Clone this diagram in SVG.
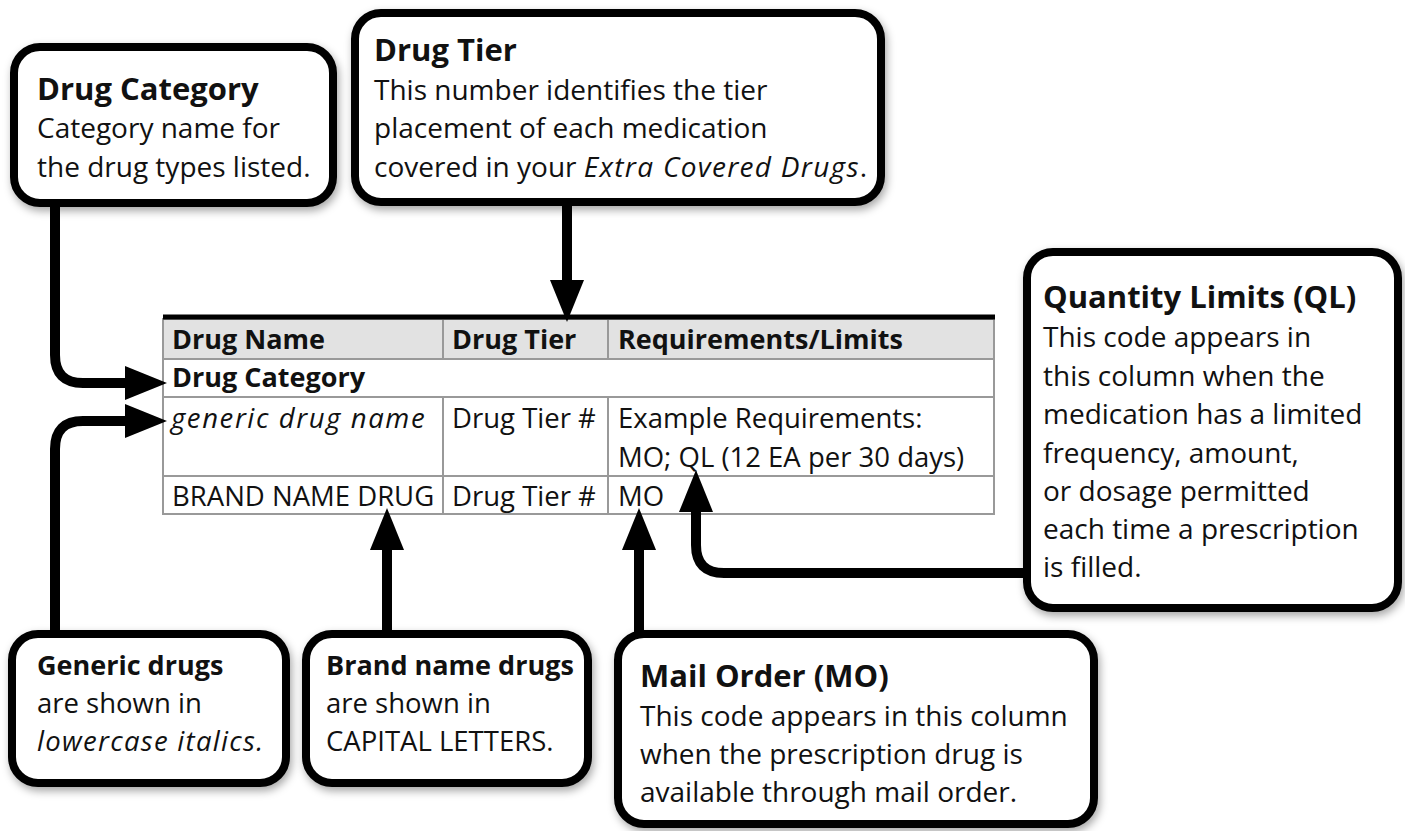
<svg xmlns="http://www.w3.org/2000/svg" width="1405" height="831" viewBox="0 0 1405 831">
<defs>
<filter id="sh" x="-10%" y="-10%" width="125%" height="130%"><feDropShadow dx="2" dy="4" stdDeviation="4" flood-color="#000" flood-opacity="0.35"/></filter>
<marker id="ah" markerUnits="userSpaceOnUse" markerWidth="44" markerHeight="34" refX="0" refY="17" orient="auto" overflow="visible"><path d="M0,0 L42,17 L0,34 z" fill="#000"/></marker>
</defs>
<style>
text{font-family:"Open Sans","Noto Sans","Liberation Sans",sans-serif;fill:#111}
.box{fill:#fff;stroke:#000;stroke-width:8;filter:url(#sh)}
.t{font-weight:bold;font-size:31px}
.ts{font-weight:bold;font-size:27px}
.b{font-size:28px}
.bs{font-size:27.5px}
.i{font-style:italic;letter-spacing:1.3px}
.cell{font-size:27.5px}
.hd{font-weight:bold;font-size:27px}
.grid{stroke:#999;stroke-width:2;fill:none}
.con{fill:none;stroke:#000;stroke-width:10;marker-end:url(#ah)}
</style>
<rect width="1405" height="831" fill="#fff"/>
<g id="table">
<rect x="163" y="319" width="831" height="40" fill="#e2e2e2"/>
<rect class="grid" x="163" y="319" width="831" height="195"/>
<path class="grid" d="M163,359H994M163,397H994M163,476H994M443,319V359M608,319V359M443,397V514M608,397V514"/>
<line x1="163" y1="317" x2="995" y2="317" stroke="#000" stroke-width="5"/>
<text class="hd" x="172" y="349">Drug Name</text>
<text class="hd" x="452" y="349">Drug Tier</text>
<text class="hd" x="618" y="349">Requirements/Limits</text>
<text class="hd" x="172" y="387">Drug Category</text>
<text class="cell i" x="171" y="428" style="letter-spacing:1.6px">generic drug name</text>
<text class="cell" x="452" y="428">Drug Tier #</text>
<text class="cell" x="618" y="428">Example Requirements:</text>
<text class="cell" x="618" y="467">MO; QL (12 EA per 30 days)</text>
<text class="cell" x="172" y="506">BRAND NAME DRUG</text>
<text class="cell" x="452" y="506">Drug Tier #</text>
<text class="cell" x="618" y="506">MO</text>
</g>
<g id="connectors">
<path class="con" d="M55,203V355Q55,383 83,383H125"/>
<path class="con" d="M55,630V449Q55,421 83,421H125"/>
<path class="con" d="M567,202V280"/>
<path class="con" d="M387,632V550"/>
<path class="con" d="M639,634V550"/>
<path class="con" d="M1027,573H724Q696,573 696,545V512"/>
</g>
<g id="drug-category">
<rect class="box" x="14" y="47" width="319" height="156" rx="26"/>
<text class="t" x="37" y="100">Drug Category</text>
<text class="b" x="37" y="138">Category name for</text>
<text class="b" x="37" y="177">the drug types listed.</text>
</g>
<g id="drug-tier">
<rect class="box" x="355" y="13" width="526" height="189" rx="26"/>
<text class="t" x="374" y="61">Drug Tier</text>
<text class="b" x="374" y="100">This number identifies the tier</text>
<text class="b" x="374" y="138">placement of each medication</text>
<text class="b" x="374" y="177">covered in your <tspan class="i">Extra Covered Drugs</tspan>.</text>
</g>
<g id="quantity-limits">
<rect class="box" x="1027" y="252" width="371" height="356" rx="26"/>
<text class="t" x="1043" y="308">Quantity Limits (QL)</text>
<text class="b" x="1043" y="347">This code appears in</text>
<text class="b" x="1043" y="386">this column when the</text>
<text class="b" x="1043" y="424">medication has a limited</text>
<text class="b" x="1043" y="463">frequency, amount,</text>
<text class="b" x="1043" y="501">or dosage permitted</text>
<text class="b" x="1043" y="539">each time a prescription</text>
<text class="b" x="1043" y="577">is filled.</text>
</g>
<g id="generic-drugs">
<rect class="box" x="12" y="634" width="274" height="149" rx="26"/>
<text class="ts" x="37" y="675">Generic drugs</text>
<text class="bs" x="37" y="713">are shown in</text>
<text class="bs i" x="37" y="751">lowercase italics.</text>
</g>
<g id="brand-name-drugs">
<rect class="box" x="306" y="634" width="282" height="149" rx="26"/>
<text class="ts" x="326" y="675">Brand name drugs</text>
<text class="bs" x="326" y="713">are shown in</text>
<text class="bs" x="326" y="751">CAPITAL LETTERS.</text>
</g>
<g id="mail-order">
<rect class="box" x="618" y="634" width="476" height="190" rx="26"/>
<text class="t" x="640" y="687">Mail Order (MO)</text>
<text class="b" x="640" y="726">This code appears in this column</text>
<text class="b" x="640" y="764">when the prescription drug is</text>
<text class="b" x="640" y="802">available through mail order.</text>
</g>
</svg>
